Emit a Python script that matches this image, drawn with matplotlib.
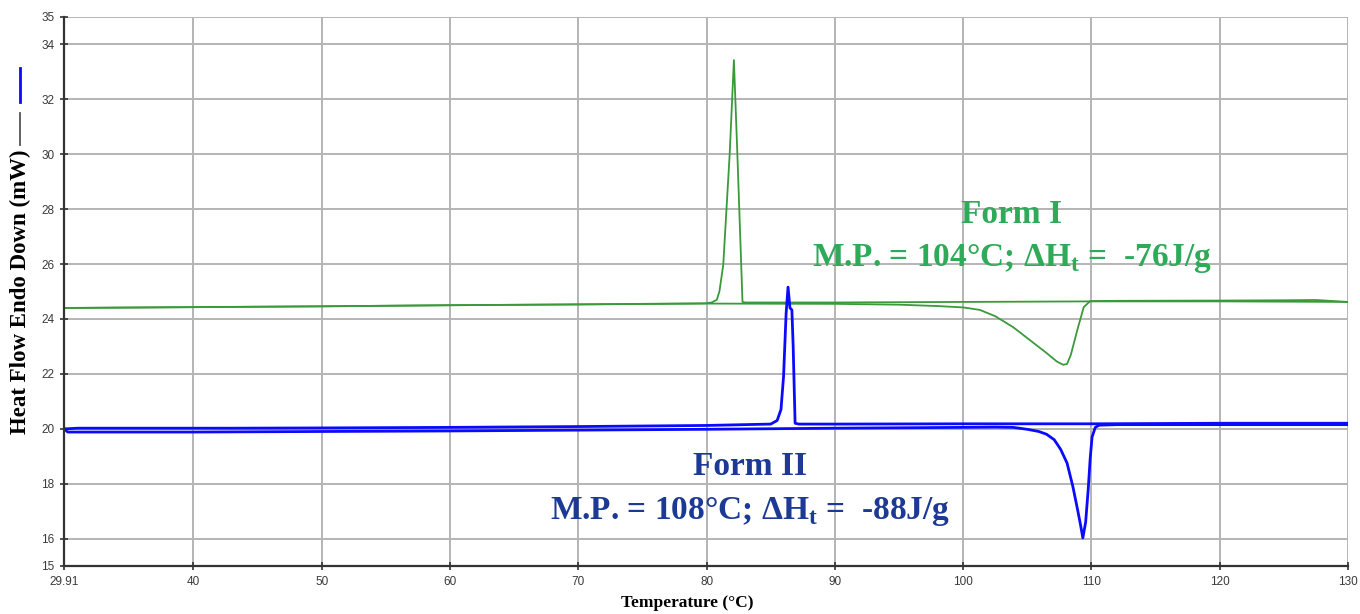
import matplotlib
matplotlib.use("Agg")
import matplotlib.pyplot as plt
from matplotlib.lines import Line2D

# Form I (green) - heating run with melting endotherm
f1_heat_x = [29.91, 40, 50, 60, 70, 80, 90, 95, 98, 100, 101.3, 102.5, 103.9, 105.2, 106.5, 107.3, 107.8, 108.1, 108.4, 108.9, 109.4, 109.9, 112, 120, 125, 127.5, 130]
f1_heat_y = [24.40, 24.43, 24.46, 24.50, 24.53, 24.56, 24.55, 24.52, 24.47, 24.42, 24.33, 24.1, 23.7, 23.23, 22.76, 22.45, 22.33, 22.36, 22.7, 23.6, 24.43, 24.65, 24.66, 24.67, 24.68, 24.69, 24.62]
# Form I (green) - cooling run with crystallisation exotherm
f1_cool_x = [130, 120, 110, 100, 90, 83.0, 82.8, 82.7, 82.4, 82.13, 81.8, 81.3, 81.0, 80.8, 80.4, 79.9, 70, 60, 50, 40, 29.91]
f1_cool_y = [24.62, 24.64, 24.64, 24.62, 24.6, 24.6, 24.62, 25.97, 30.0, 33.43, 30.0, 25.97, 25.0, 24.7, 24.6, 24.57, 24.53, 24.50, 24.46, 24.43, 24.40]

# Form II (blue) - heating run
f2_heat_x = [29.91, 30.2, 40, 50, 60, 70, 80, 90, 100, 102.5, 103.9, 105.0, 105.9, 106.5, 107.1, 107.6, 108.1, 108.55, 108.9, 109.15, 109.33, 109.55, 109.75, 109.9, 110.05, 110.3, 110.6, 112, 120, 130]
f2_heat_y = [20.0, 19.88, 19.88, 19.9, 19.92, 19.95, 19.98, 20.02, 20.05, 20.06, 20.05, 19.98, 19.9, 19.8, 19.6, 19.25, 18.75, 17.9, 17.1, 16.5, 16.02, 16.6, 17.8, 18.9, 19.7, 20.05, 20.13, 20.15, 20.15, 20.15]
# Form II (blue) - cooling run
f2_cool_x = [130, 120, 110, 100, 90, 87.2, 86.9, 86.75, 86.65, 86.5, 86.35, 86.2, 86.0, 85.8, 85.5, 85.0, 80, 70, 60, 50, 43, 40, 31, 30.2, 29.91]
f2_cool_y = [20.2, 20.2, 20.18, 20.18, 20.17, 20.17, 20.2, 23.0, 24.33, 24.4, 25.16, 24.2, 21.9, 20.7, 20.3, 20.17, 20.12, 20.08, 20.05, 20.03, 20.02, 20.02, 20.02, 20.0, 20.0]

xticks = [29.91, 40, 50, 60, 70, 80, 90, 100, 110, 120, 130]
xtick_labels = ["29.91", "40", "50", "60", "70", "80", "90", "100", "110", "120", "130"]
yticks = [15, 16, 18, 20, 22, 24, 26, 28, 30, 32, 34, 35]

serif = "Liberation Serif"
plt.rcParams["mathtext.fontset"] = "custom"
plt.rcParams["mathtext.rm"] = serif
plt.rcParams["mathtext.bf"] = serif + ":bold"

fig = plt.figure(figsize=(13.6, 6.14), dpi=100)
ax = fig.add_axes([64/1360, 48/614, 1284/1360, 549/614])

green = "#3a9a3a"
blue = "#0a0aff"
ax.plot(f1_heat_x, f1_heat_y, color=green, lw=1.3)
ax.plot(f1_cool_x, f1_cool_y, color=green, lw=1.3)
ax.plot(f2_heat_x, f2_heat_y, color=blue, lw=2.0)
ax.plot(f2_cool_x, f2_cool_y, color=blue, lw=2.0)

ax.set_xlim(29.91, 130)
ax.set_ylim(15, 35)
ax.set_xticks(xticks)
ax.set_xticklabels(xtick_labels)
ax.set_yticks(yticks)
ax.grid(True, color="#b4b4b4", lw=1.4)
ax.set_axisbelow(True)
for s in ["top", "right"]:
    ax.spines[s].set_visible(False)
for s in ["left", "bottom"]:
    ax.spines[s].set_color("#333333")
    ax.spines[s].set_linewidth(1.6)
ax.tick_params(axis="both", direction="inout", length=6, width=1.2, color="#333333",
               labelsize=8.5, labelcolor="#3a3a3a", pad=4)
for lab in ax.get_xticklabels() + ax.get_yticklabels():
    lab.set_family("Liberation Sans")

ax.text(103.8, 27.79, "Form I", color="#2eaa58", fontsize=24, fontweight="bold",
        family=serif, ha="center", va="center")
ax.text(103.8, 26.22, r"M.P. = 104°C; ΔH$_{\mathbf{t}}$ =  -76J/g", color="#2eaa58",
        fontsize=24, fontweight="bold", family=serif, ha="center", va="center")
ax.text(83.4, 18.61, "Form II", color="#1c3a94", fontsize=24, fontweight="bold",
        family=serif, ha="center", va="center")
ax.text(83.4, 17.0, r"M.P. = 108°C; ΔH$_{\mathbf{t}}$ =  -88J/g", color="#1c3a94",
        fontsize=24, fontweight="bold", family=serif, ha="center", va="center")

fig.text(687/1360, 1 - 603/614, "Temperature (°C)", fontsize=12.5, fontweight="bold",
         family=serif, ha="center", va="center")
fig.text(20/1360, 1 - 292/614, "Heat Flow Endo Down (mW)", fontsize=16.5, fontweight="bold",
         family=serif, rotation=90, ha="center", va="center")
# little legend marks next to the y label
fig.add_artist(Line2D([20/1360, 20/1360], [1 - 145/614, 1 - 113/614], color="#555555", lw=1.3))
fig.add_artist(Line2D([20/1360, 20/1360], [1 - 102/614, 1 - 68/614], color=blue, lw=2.0))

fig.savefig("out.png", dpi=100)
